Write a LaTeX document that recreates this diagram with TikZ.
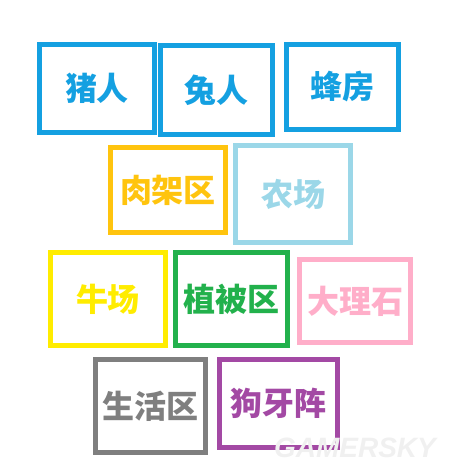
\documentclass[tikz,border=0pt]{standalone}
\usepackage{fontspec}
\usepackage{tikz}
\newfontfamily\cjk{Noto Sans CJK SC}[BoldFont={Noto Sans CJK SC Black}]
\newfontfamily\markfont{Liberation Sans}

\definecolor{skyblue}{RGB}{20,160,225}
\definecolor{meatorange}{RGB}{255,196,14}
\definecolor{palecyan}{RGB}{155,215,232}
\definecolor{cowyellow}{RGB}{255,236,0}
\definecolor{plantgreen}{RGB}{34,177,76}
\definecolor{marblepink}{RGB}{255,174,201}
\definecolor{livegray}{RGB}{127,127,127}
\definecolor{dogpurple}{RGB}{163,73,164}

\tikzset{
	area/.style={draw=#1, text=#1, line width=5pt, inner sep=0pt,
		font=\cjk\bfseries\fontsize{32}{32}\selectfont}
}

\begin{document}
\begin{tikzpicture}[x=1pt,y=-1pt]
			\useasboundingbox (0,0) rectangle (456,475);

			\foreach \x/\y/\w/\h/\c/\n/\t in {
				97/88.5/115/88/skyblue/pig/猪人,
				216.5/90/112/89/skyblue/rabbit/兔人,
				342.5/87/112/85/skyblue/hive/蜂房,
				168/190/115/85/meatorange/meat/肉架区,
				293/194/115/97/palecyan/farm/农场,
				108/299/115/93/cowyellow/cow/牛场,
				231.5/299/112/93/plantgreen/plant/植被区,
				355/301/111/83/marblepink/marble/大理石,
				150.5/406/110/93/livegray/living/生活区,
				278.5/403.5/118/88/dogpurple/dog/狗牙阵}
			{
				\node[area=\c, minimum width=\w pt, minimum height=\h pt] (\n) at (\x,\y) {\t};
			}

			\node[text=black!6, font=\markfont\bfseries\itshape\fontsize{28}{28}\selectfont] (mark) at (355,448) {GAMERSKY};
\end{tikzpicture}
\end{document}
